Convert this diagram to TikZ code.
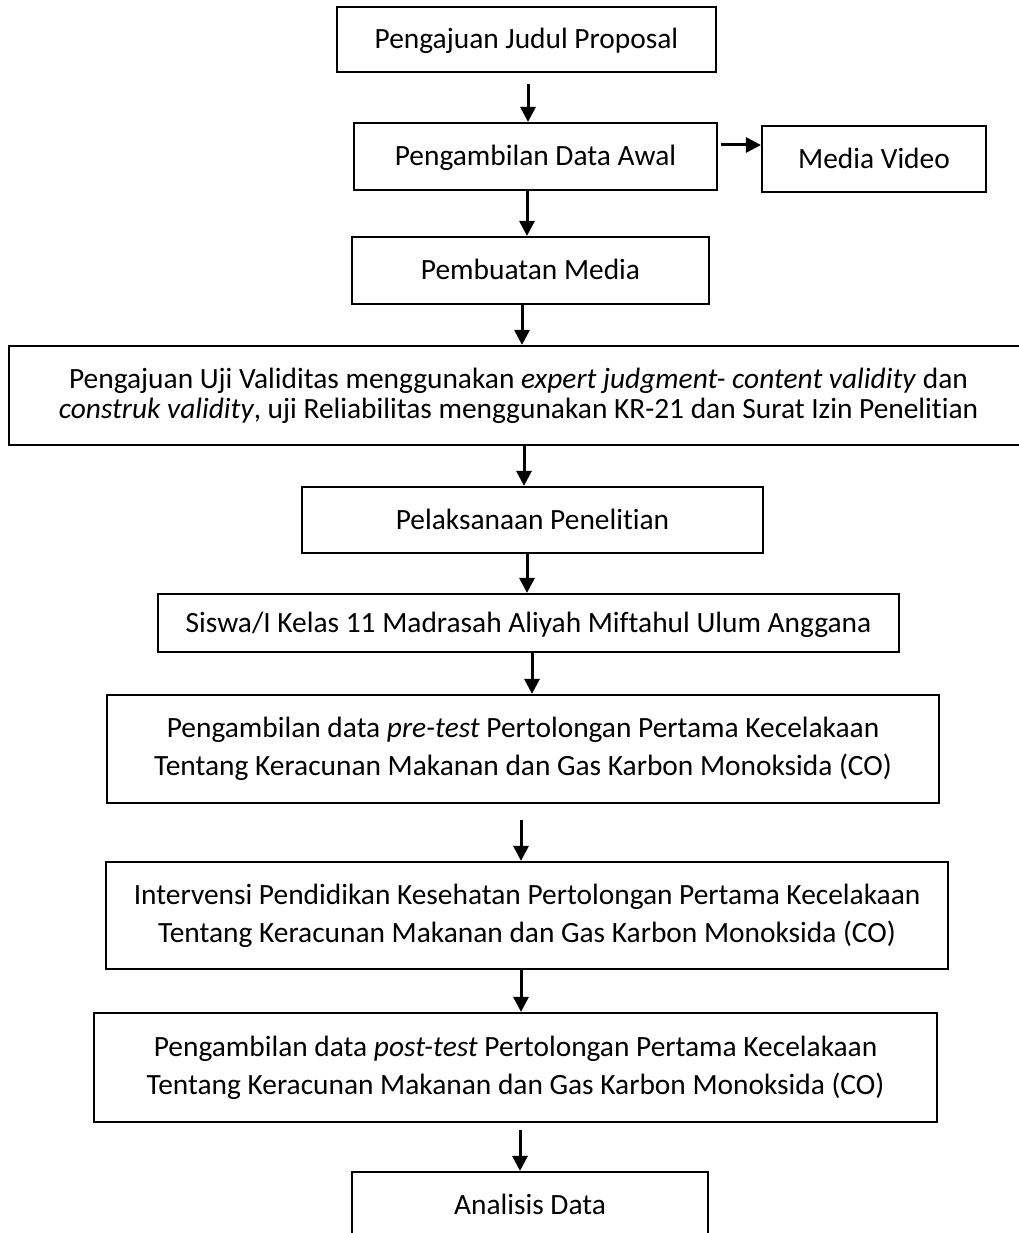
\documentclass[tikz,border=0pt]{standalone}
\usepackage{fontspec}
\setmainfont{Carlito}[Ligatures=NoCommon]
\usetikzlibrary{arrows.meta}
\newcommand\mkbox[7][]{\node[boxst,#1,minimum width={#5-#3},minimum height={#6-#4}] (#2) at ({(#3+#5)/2},{(#4+#6)/2}) {#7};}
\begin{document}
\begin{tikzpicture}[x=1pt,y=-1pt,
  boxst/.style={draw=black,line width=2.2pt,inner sep=0pt,align=center,font=\fontsize{29.4}{38}\selectfont},
  oneline/.style={text height=18.8pt,text depth=0pt},
  arr/.style={line width=3pt,-{Triangle[length=15pt,width=15pt]}}]
\useasboundingbox (0,0) rectangle (1019,1233);
\clip (0,0) rectangle (1019,1233);
\fill[white] (0,0) rectangle (1019,1233);
\mkbox[oneline]{b1}{337}{7}{716}{72}{Pengajuan Judul Proposal}
\mkbox[oneline]{b2}{354}{123}{717}{190}{Pengambilan Data Awal}
\mkbox[oneline]{mv}{762}{126}{986}{192}{Media Video}
\mkbox[oneline]{b3}{352}{237}{709}{304}{Pembuatan Media}
\mkbox[font=\fontsize{29.4}{30}\selectfont]{b4}{9}{346}{1028}{445}{Pengajuan Uji Validitas menggunakan \textit{expert judgment- content validity} dan\\\textit{construk validity}, uji Reliabilitas menggunakan KR-21 dan Surat Izin Penelitian}
\mkbox[oneline]{b5}{302}{487}{763}{553}{Pelaksanaan Penelitian}
\mkbox[oneline]{b6}{158}{594}{899}{652}{Siswa/I Kelas 11 Madrasah Aliyah Miftahul Ulum Anggana}
\mkbox{b7}{107}{695}{939}{803}{Pengambilan data \textit{pre-test} Pertolongan Pertama Kecelakaan\\Tentang Keracunan Makanan dan Gas Karbon Monoksida (CO)}
\mkbox{b8}{106}{862}{948}{969}{Intervensi Pendidikan Kesehatan Pertolongan Pertama Kecelakaan\\Tentang Keracunan Makanan dan Gas Karbon Monoksida (CO)}
\mkbox{b9}{94}{1013}{937}{1122}{Pengambilan data \textit{post-test} Pertolongan Pertama Kecelakaan\\Tentang Keracunan Makanan dan Gas Karbon Monoksida (CO)}
\mkbox[oneline]{b10}{352}{1172}{708}{1238}{Analisis Data}
\draw[arr,shorten <=11pt] (b1.south -| 528,0) -- (b2.north -| 528,0);
\draw[arr] (b2.south -| 527,0) -- (b3.north -| 527,0);
\draw[arr,shorten <=3pt] (b2.east |- 0,145) -- (mv.west |- 0,145);
\draw[arr] (b3.south -| 522,0) -- (b4.north -| 522,0);
\draw[arr] (b4.south -| 524,0) -- (b5.north -| 524,0);
\draw[arr] (b5.south -| 527,0) -- (b6.north -| 527,0);
\draw[arr] (b6.south -| 532,0) -- (b7.north -| 532,0);
\draw[arr,shorten <=16pt] (b7.south -| 521,0) -- (b8.north -| 521,0);
\draw[arr] (b8.south -| 521,0) -- (b9.north -| 521,0);
\draw[arr,shorten <=7pt] (b9.south -| 520,0) -- (b10.north -| 520,0);
\end{tikzpicture}
\end{document}
